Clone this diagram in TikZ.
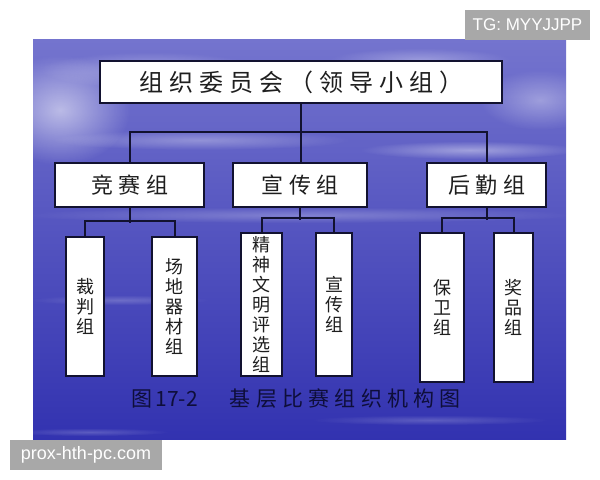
\documentclass[tikz,border=0pt]{standalone}
\usepackage{fontspec}
\setsansfont{Liberation Sans}
\newfontfamily\cjk{Noto Sans CJK SC}
\newfontfamily\cjkwide{Noto Sans CJK SC}[LetterSpace=25]
\usepackage{tikz}
\usetikzlibrary{fadings}
\tikzfading[name=softcloud,inner color=transparent!0,outer color=transparent!100]
\definecolor{sky}{RGB}{116,116,206}
\definecolor{seamid}{RGB}{80,80,192}
\definecolor{sea}{RGB}{50,50,176}
\definecolor{navy}{RGB}{18,18,48}
\definecolor{capblue}{RGB}{14,14,58}
\definecolor{ink}{RGB}{30,30,30}
\definecolor{wmgray}{RGB}{168,168,168}

\begin{document}
\begin{tikzpicture}[x=0.5pt,y=-0.5pt,
  box/.style={draw=navy,line width=1pt,fill=white,inner sep=0pt,text=ink},
  headbox/.style={box,minimum width=201pt,minimum height=21pt,
    font=\cjkwide\fontsize{12}{14}\selectfont},
  grpbox/.style={box,minimum height=22pt,
    font=\cjkwide\fontsize{11}{13}\selectfont},
  subbox/.style={box,align=center,minimum height=#1,
    font=\cjk\fontsize{9}{10}\selectfont},
  link/.style={draw=navy,line width=1pt},
  cloud/.style={white,path fading=softcloud,opacity=#1},
  wmbox/.style={fill=wmgray,text=white,inner sep=0pt,
    font=\sffamily\fontsize{8.5}{10}\selectfont}]
\useasboundingbox (0,0) rectangle (600,480);
\fill[white] (0,0) rectangle (600,480);
\shade[top color=sky,middle color=seamid,bottom color=sea] (33,40) rectangle (566,440);
\begin{scope}
\clip (33,40) rectangle (566,440);
\fill[cloud=0.55] (60,110) ellipse (70 and 55);
\fill[cloud=0.35] (150,70) ellipse (110 and 18);
\fill[cloud=0.3] (420,60) ellipse (90 and 12);
\fill[cloud=0.35] (540,100) ellipse (60 and 30);
\fill[cloud=0.3] (200,140) ellipse (150 and 10);
\fill[cloud=0.4] (470,150) ellipse (110 and 9);
\fill[cloud=0.25] (300,215) ellipse (280 and 8);
\fill[cloud=0.2] (120,300) ellipse (90 and 5);
\fill[cloud=0.2] (430,420) ellipse (120 and 5);
\fill[cloud=0.2] (90,432) ellipse (80 and 4);
\end{scope}

\node[headbox] (top) at (301,82) {组织委员会（领导小组）};
\node[grpbox,minimum width=74.5pt] (jingsai) at (129.5,185) {竞赛组};
\node[grpbox,minimum width=67pt] (xuanchuan) at (300,185) {宣传组};
\node[grpbox,minimum width=59.5pt] (houqin) at (486.5,185) {后勤组};

\node[subbox=69.5pt,minimum width=19pt] (caipan) at (85,306.5) {裁\\判\\组};
\node[subbox=69.5pt,minimum width=22.5pt] (changdi) at (174.5,306.5) {场\\地\\器\\材\\组};
\node[subbox=71.5pt,minimum width=20.5pt] (jingshen) at (261.5,304.5) {精\\神\\文\\明\\评\\选\\组};
\node[subbox=71.5pt,minimum width=18pt] (xczu) at (334,304.5) {宣\\传\\组};
\node[subbox=74.5pt,minimum width=22pt] (baowei) at (442,307.5) {保\\卫\\组};
\node[subbox=74.5pt,minimum width=19.5pt] (jiangpin) at (513.5,307.5) {奖\\品\\组};

\draw[link] (top.south) -- (top.south |- xuanchuan.north);
\draw[link] (jingsai.north) -- ++(0,-30) -| (houqin.north);
\draw[link] (jingsai.south) -- ++(0,15);
\draw[link] (caipan.north) -- ++(0,-15) -| (changdi.north);
\draw[link] (xuanchuan.south) -- ++(0,12);
\draw[link] (jingshen.north) -- ++(0,-14) -| (xczu.north);
\draw[link] (houqin.south) -- ++(0,12);
\draw[link] (baowei.north) -- ++(0,-14) -| (jiangpin.north);

\node[text=capblue,font=\cjkwide\fontsize{10.5}{12}\selectfont] (caption) at (296,399)
  {图{\cjk\,17-2}\hspace{16pt}基层比赛组织机构图};

\node[wmbox,minimum width=62.5pt,minimum height=15pt] (tg) at (527.5,25) {TG: MYYJJPP};
\node[wmbox,minimum width=76pt,minimum height=15pt,font=\sffamily\fontsize{9}{10}\selectfont] (site) at (86,455) {prox-hth-pc.com};
\end{tikzpicture}
\end{document}
